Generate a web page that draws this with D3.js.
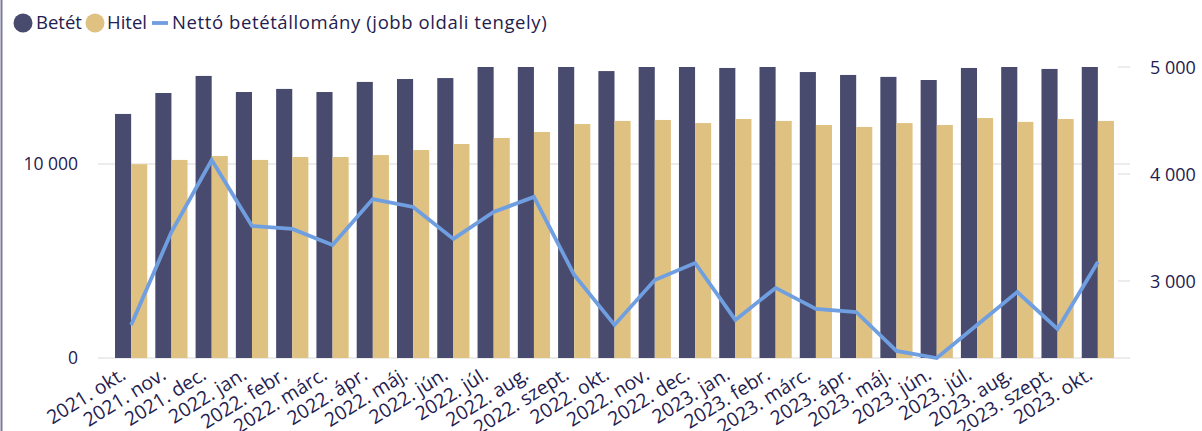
<!DOCTYPE html>
<html>
<head>
<meta charset="utf-8">
<script src="https://cdn.jsdelivr.net/npm/d3@7"></script>
<style>
  body { margin: 0; background: #fff; }
  text { font-family: "Open Sans", sans-serif; fill: #1f2050; }
</style>
</head>
<body>
<div id="chart"></div>
<script>
const months = ['2021. okt.', '2021. nov.', '2021. dec.', '2022. jan.', '2022. febr.', '2022. márc.',
  '2022. ápr.', '2022. máj.', '2022. jún.', '2022. júl.', '2022. aug.', '2022. szept.', '2022. okt.',
  '2022. nov.', '2022. dec.', '2023. jan.', '2023. febr.', '2023. márc.', '2023. ápr.', '2023. máj.',
  '2023. jún.', '2023. júl.', '2023. aug.', '2023. szept.', '2023. okt.'];

// left axis (bars run past the top of the plot and are clipped)
const betet = [12580, 13660, 14540, 13710, 13870, 13710, 14230, 14380, 14430, 15300, 15300, 15300, 14790,
  15300, 15300, 14950, 15300, 14740, 14590, 14490, 14330, 14950, 15300, 14900, 15300];
const hitel = [9990, 10210, 10410, 10210, 10360, 10360, 10460, 10720, 11030, 11340, 11650, 12060, 12220,
  12270, 12110, 12320, 12220, 12010, 11910, 12110, 12010, 12370, 12170, 12320, 12220];
// right axis
const netto = [2589, 3458, 4131, 3514, 3486, 3336, 3766, 3692, 3393, 3645, 3785, 3056, 2589,
  3009, 3168, 2636, 2935, 2738, 2710, 2346, 2280, 2589, 2897, 2551, 3178];

const leftTicks = [0, 10000];
const rightTicks = [3000, 4000, 5000];

const svgWidth = 1202;
const svgHeight = 431;
const plot = { left: 111, right: 1118, top: 67, bottom: 358 };
const colors = { betet: '#484a6e', hitel: '#dfc282', netto: '#6f9fe0', grid: '#ececec' };

const fmt = v => d3.format(',')(v).replace(/,/g, ' ');

const svg = d3.select('#chart')
  .append('svg')
  .attr('width', svgWidth)
  .attr('height', svgHeight);

// left frame edge
svg.append('line')
  .attr('x1', 1.5).attr('x2', 1.5)
  .attr('y1', 0).attr('y2', svgHeight)
  .attr('stroke', '#7c7a9a')
  .attr('stroke-width', 2);

const x = d3.scaleBand().domain(months).range([plot.left, plot.right]).paddingInner(0.2).paddingOuter(0.1);
const xSub = d3.scaleBand().domain(['betet', 'hitel']).range([0, x.bandwidth()]);
const y = d3.scaleLinear().domain([0, 15000]).range([plot.bottom, plot.top]);
const y2 = d3.scaleLinear().domain([2280, 5000]).range([plot.bottom, plot.top]);

svg.append('defs')
  .append('clipPath')
    .attr('id', 'clip')
  .append('rect')
    .attr('x', plot.left - 20)
    .attr('y', plot.top)
    .attr('width', plot.right - plot.left + 40)
    .attr('height', plot.bottom - plot.top + 10);

// gridlines
svg.append('g')
  .selectAll('line')
  .data(leftTicks)
  .join('line')
    .attr('x1', 98).attr('x2', 1130)
    .attr('y1', d => y(d)).attr('y2', d => y(d))
    .attr('stroke', colors.grid)
    .attr('stroke-width', 2);

// right axis tick marks
svg.append('g')
  .selectAll('line')
  .data(rightTicks)
  .join('line')
    .attr('x1', plot.right).attr('x2', 1130)
    .attr('y1', d => y2(d)).attr('y2', d => y2(d))
    .attr('stroke', colors.grid)
    .attr('stroke-width', 2);

const bars = svg.append('g').attr('clip-path', 'url(#clip)');
bars.selectAll('.betet')
  .data(betet)
  .join('rect')
    .attr('class', 'betet')
    .attr('x', (d, i) => x(months[i]) + xSub('betet'))
    .attr('width', xSub.bandwidth())
    .attr('y', d => y(d))
    .attr('height', d => y(0) - y(d))
    .attr('fill', colors.betet);
bars.selectAll('.hitel')
  .data(hitel)
  .join('rect')
    .attr('class', 'hitel')
    .attr('x', (d, i) => x(months[i]) + xSub('hitel'))
    .attr('width', xSub.bandwidth())
    .attr('y', d => y(d))
    .attr('height', d => y(0) - y(d))
    .attr('fill', colors.hitel);

const line = d3.line()
  .x((d, i) => x(months[i]) + x.bandwidth() / 2)
  .y(d => y2(d));

svg.append('path')
  .datum(netto)
  .attr('d', line)
  .attr('fill', 'none')
  .attr('stroke', colors.netto)
  .attr('stroke-width', 3.8)
  .attr('stroke-linejoin', 'miter');

// axis labels
svg.append('g')
  .selectAll('text')
  .data(leftTicks)
  .join('text')
    .attr('x', 78)
    .attr('y', d => y(d))
    .attr('dy', '0.35em')
    .attr('text-anchor', 'end')
    .style('font-size', '17.5px')
    .text(fmt);

svg.append('g')
  .selectAll('text')
  .data(rightTicks)
  .join('text')
    .attr('x', 1150)
    .attr('y', d => y2(d))
    .attr('dy', '0.4em')
    .style('font-size', '18px')
    .text(fmt);

svg.append('g')
  .selectAll('text')
  .data(months)
  .join('text')
    .attr('transform', d => `translate(${x(d) + x.bandwidth() / 2 - 4},${plot.bottom + 20}) rotate(-32)`)
    .attr('text-anchor', 'end')
    .style('font-size', '19.4px')
    .text(d => d);

// legend
const legend = svg.append('g').style('font-size', '18.5px');
legend.append('circle').attr('cx', 23).attr('cy', 23).attr('r', 9.5).attr('fill', colors.betet);
legend.append('text').attr('x', 36).attr('y', 23).attr('dy', '0.35em').text('Betét');
legend.append('circle').attr('cx', 95).attr('cy', 23).attr('r', 9.5).attr('fill', colors.hitel);
legend.append('text').attr('x', 107).attr('y', 23).attr('dy', '0.35em').text('Hitel');
legend.append('line').attr('x1', 152).attr('x2', 168).attr('y1', 23).attr('y2', 23)
  .attr('stroke', colors.netto).attr('stroke-width', 3.8);
legend.append('text').attr('x', 172).attr('y', 23).attr('dy', '0.35em')
  .style('letter-spacing', '0.6px')
  .text('Nettó betétállomány (jobb oldali tengely)');
</script>
</body>
</html>
